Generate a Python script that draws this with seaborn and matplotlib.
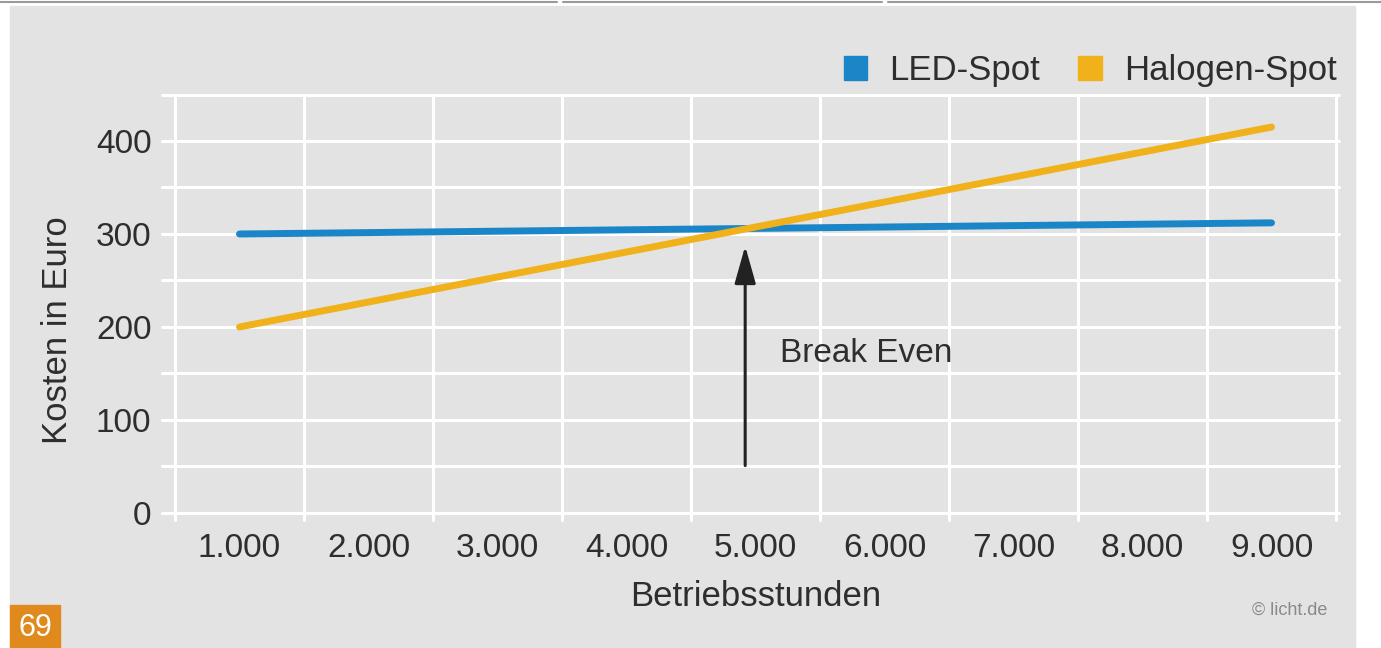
import pandas as pd
import matplotlib.pyplot as plt
import matplotlib.patches as mpatches
from matplotlib.lines import Line2D
import seaborn as sns

# data
hours = [1000, 9000]
led_cost = [300, 312]
halogen_cost = [200, 415]
series_names = ['LED-Spot', 'Halogen-Spot']
x_ticks = [1000, 2000, 3000, 4000, 5000, 6000, 7000, 8000, 9000]
x_tick_labels = ['1.000', '2.000', '3.000', '4.000', '5.000', '6.000', '7.000', '8.000', '9.000']
y_ticks = [0, 100, 200, 300, 400]
break_even_x = 4920

df = pd.DataFrame({
    'Betriebsstunden': hours * 2,
    'Kosten': led_cost + halogen_cost,
    'Typ': [series_names[0]] * len(hours) + [series_names[1]] * len(hours),
})

bg = '#e3e3e3'
text_col = '#2e2e2e'
palette = {'LED-Spot': '#1a86c8', 'Halogen-Spot': '#f0b11a'}
fs = 24

sns.set_theme(style='white')
plt.rcParams['font.family'] = ['Liberation Sans', 'DejaVu Sans']

fig = plt.figure(figsize=(13.81, 6.48), dpi=100, facecolor='white')

# grey panel behind everything
fig.patches.append(mpatches.Rectangle((10 / 1381, 0), 1345 / 1381, 642 / 648,
                                      transform=fig.transFigure, color=bg, zorder=-10))
# thin border segments at the very top
for x0, x1 in [(0, 557), (563, 882), (888, 1381)]:
    fig.lines.append(Line2D([x0 / 1381, x1 / 1381], [646.5 / 648] * 2,
                            transform=fig.transFigure, color='#9a9a9a', lw=1.5))

ax = fig.add_axes([175 / 1381, 128.5 / 648, 1161 / 1381, 425 / 648])
ax.set_facecolor(bg)

sns.lineplot(data=df, x='Betriebsstunden', y='Kosten', hue='Typ', palette=palette,
             linewidth=5, ax=ax, legend=False, zorder=3)
for line in ax.lines:
    line.set_solid_capstyle('round')

ax.set_xlim(500, 9500)
ax.set_ylim(-7, 450)

# white grid: horizontal every 50, vertical between the categories
for y in range(0, 451, 50):
    ax.axhline(y, xmin=-0.011, xmax=1.003, color='white', lw=2.2, zorder=1, clip_on=False)
for x in range(500, 9501, 1000):
    ax.axvline(x, color='white', lw=2.2, zorder=1, clip_on=False)

ax.set_xticks(x_ticks)
ax.set_xticklabels(x_tick_labels)
ax.set_yticks(y_ticks)
ax.tick_params(length=0, labelsize=fs, colors=text_col)
ax.tick_params(axis='x', pad=10)
ax.tick_params(axis='y', pad=17)
for s in ax.spines.values():
    s.set_visible(False)

ax.set_xlabel('Betriebsstunden', fontsize=25, color=text_col, labelpad=11)
ax.set_ylabel('Kosten in Euro', fontsize=25, color=text_col, labelpad=16, y=0.446)

# break even arrow
ax.annotate('', xy=(break_even_x, 290), xytext=(break_even_x, 48),
            arrowprops=dict(arrowstyle='-|>,head_length=2.3,head_width=0.65',
                            mutation_scale=10, color='#222222', lw=2.2), zorder=4)
ax.text(5190, 172, 'Break Even', fontsize=fs, color=text_col, va='center', ha='left')

# legend
handles = [mpatches.Patch(color=palette[n], label=n) for n in series_names]
fig.legend(handles=handles, loc='upper right', bbox_to_anchor=(1337 / 1381, 594 / 648),
           ncol=2, frameon=False, fontsize=25, handlelength=0.67, handleheight=0.67,
           handletextpad=0.65, columnspacing=1.1, labelcolor=text_col,
           borderpad=0, borderaxespad=0)

# source and figure number
fig.text(1290 / 1381, 38 / 648, '\u00a9 licht.de', fontsize=13, color='#8a8a8a',
         ha='center', va='center')
fig.patches.append(mpatches.Rectangle((10 / 1381, 0), 50 / 1381, 43 / 648,
                                      transform=fig.transFigure, color='#e08a1e', zorder=5))
fig.text(35 / 1381, 20 / 648, '69', fontsize=22, color='white', ha='center', va='center',
         zorder=6)

fig.savefig('out.png', dpi=100, facecolor='white')
